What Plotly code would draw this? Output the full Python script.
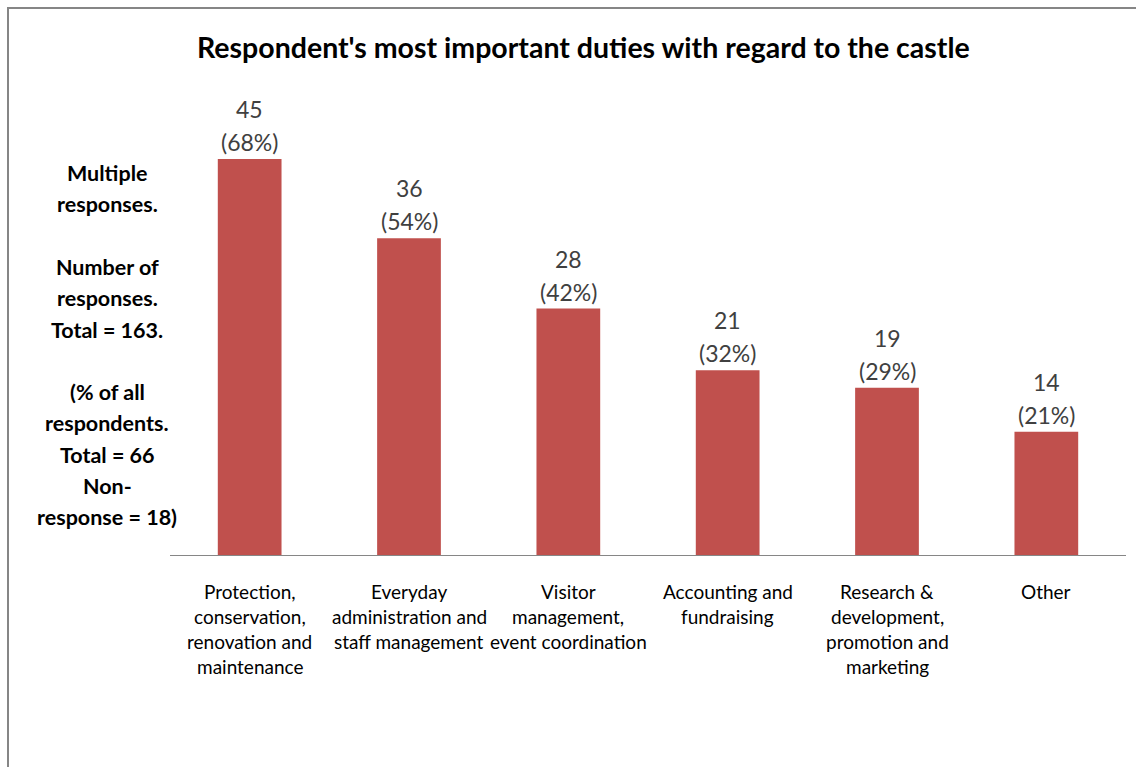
import plotly.graph_objects as go

categories = [
    "Protection,<br>conservation,<br>renovation and<br>maintenance",
    "Everyday<br>administration and<br>staff management",
    "Visitor<br>management,<br>event coordination",
    "Accounting and<br>fundraising",
    "Research &<br>development,<br>promotion and<br>marketing",
    "Other",
]
responses = [45, 36, 28, 21, 19, 14]
percent_of_respondents = [68, 54, 42, 32, 29, 21]

side_note_lines = [
    "Multiple", "responses.", "",
    "Number of", "responses.", "Total = 163.", "",
    "(% of all", "respondents.", "Total = 66", "Non-", "response = 18)",
]

title_text = "Respondent's most important duties with regard to the castle"

W, H = 1136, 767
PL, PR, PT, PB = 170, 1126, 115, 555  # plot area in pixels
FONT = "Lato, Carlito, Calibri, sans-serif"
BAR = "#C0504D"
AXIS = "#868686"


def px_x(p):
    return (p - PL) / (PR - PL)


def px_y(p):
    return (PB - p) / (PB - PT)


xs = list(range(len(categories)))

fig = go.Figure(
    go.Bar(
        x=xs,
        y=responses,
        marker=dict(color=BAR, line=dict(width=0)),
        width=0.4,
        hoverinfo="skip",
    )
)

ann = []
# value labels above each bar: count, then share of respondents
for i, (v, p) in enumerate(zip(responses, percent_of_respondents)):
    ann.append(dict(x=i, y=v, xref="x", yref="y", text=f"({p}%)",
                    showarrow=False, yanchor="middle", yshift=17,
                    font=dict(family=FONT, size=23, color="#404040")))
    ann.append(dict(x=i, y=v, xref="x", yref="y", text=str(v),
                    showarrow=False, yanchor="middle", yshift=50,
                    font=dict(family=FONT, size=23, color="#404040")))

# category labels, one line at a time for even line spacing
for i, c in enumerate(categories):
    for k, line in enumerate(c.split("<br>")):
        ann.append(dict(x=i, y=px_y(591 + 25 * k), xref="x", yref="paper",
                        text=line, showarrow=False, yanchor="middle",
                        font=dict(family=FONT, size=19, color="#000000")))

# explanatory note on the left
for k, line in enumerate(side_note_lines):
    if not line:
        continue
    ann.append(dict(x=px_x(107), y=px_y(173 + 31.3 * k), xref="paper", yref="paper",
                    text=f"<b>{line}</b>", showarrow=False,
                    xanchor="center", yanchor="middle",
                    font=dict(family=FONT, size=21.5, color="#000000")))

# chart title
ann.append(dict(x=px_x(583), y=px_y(47), xref="paper", yref="paper",
                text=f"<b>{title_text}</b>", showarrow=False,
                xanchor="center", yanchor="middle",
                font=dict(family=FONT, size=28.5, color="#000000")))

fig.update_layout(
    width=W, height=H,
    margin=dict(l=PL, r=W - PR, t=PT, b=H - PB, pad=0),
    paper_bgcolor="white", plot_bgcolor="white",
    showlegend=False,
    annotations=ann,
    xaxis=dict(range=[-0.5, len(categories) - 0.5], showticklabels=False,
               showline=True, linecolor=AXIS, linewidth=1, ticks="",
               showgrid=False, zeroline=False, fixedrange=True),
    yaxis=dict(range=[0, 50], visible=False, showgrid=False, zeroline=False,
               fixedrange=True),
    shapes=[
        # outer chart frame
        dict(type="rect", xref="paper", yref="paper",
             x0=px_x(8), x1=px_x(1145), y0=px_y(8), y1=px_y(780),
             line=dict(color=AXIS, width=2), fillcolor="rgba(0,0,0,0)",
             layer="below"),
    ],
)

fig.write_html("out.html")
